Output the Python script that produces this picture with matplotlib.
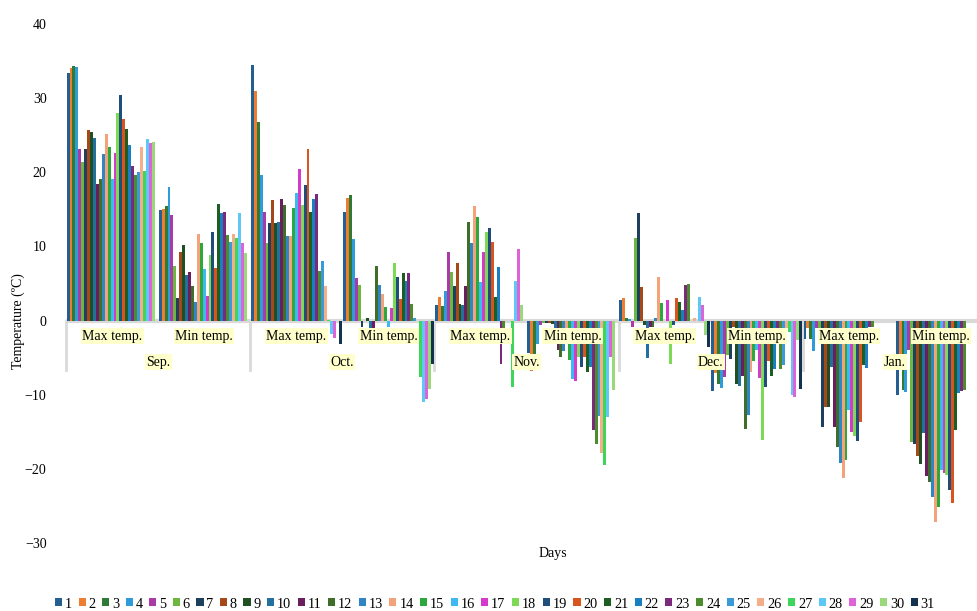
import numpy as np
import matplotlib.pyplot as plt

plt.rcParams['font.family'] = ['Liberation Serif', 'DejaVu Serif']

months = ['Sep.', 'Oct.', 'Nov.', 'Dec.', 'Jan.']
kinds = ['Max temp.', 'Min temp.']
days = [str(d) for d in range(1, 32)]
nan = np.nan

# daily temperatures (degC), day 1..31 for each month/type
sep_max = [33.4, 34.1, 34.4, 34.2, 23.1, 21.4, 23.2, 25.7, 25.4, 24.6, 18.4, 19.1, 22.5, 25.1, 23.4,
           19.1, 22.6, 28.0, 30.4, 27.2, 25.9, 23.7, 20.9, 19.7, 20.0, 23.4, 20.2, 24.5, 24.0, 24.1, nan]
sep_min = [14.9, 15.1, 15.4, 18.0, 14.2, 7.4, 3.1, 9.3, 10.2, 6.1, 6.5, 4.6, 2.5, 11.7, 10.5,
           6.9, 3.3, 8.9, 12.0, 7.1, 15.7, 14.5, 14.6, 11.5, 10.6, 11.7, 11.2, 14.5, 10.4, 9.1, nan]
oct_max = [34.5, 30.9, 26.8, 19.6, 14.6, 10.5, 13.2, 16.3, 13.2, 13.3, 16.4, 15.6, 11.4, 11.4, 15.2,
           17.2, 20.4, 15.6, 18.3, 23.1, 14.7, 16.4, 17.1, 6.7, 8.0, 4.6, 0.1, -1.8, -2.3, 0.0, -3.2]
oct_min = [14.6, 16.5, 16.9, 11.0, 5.8, 4.8, -0.8, 0.0, 0.3, -1.0, -1.0, 7.4, 4.8, 3.6, 1.8,
           -0.8, 1.7, 7.7, 5.9, 2.9, 6.4, 5.4, 6.4, 2.3, 0.3, 0.0, -7.6, -11.0, -10.6, -9.2, -5.8]
nov_max = [2.1, 3.2, 1.9, 4.0, 9.3, 6.5, 4.6, 7.8, 2.3, 2.1, 4.7, 13.3, 10.4, 15.4, 14.0,
           5.2, 9.3, 12.0, 12.5, 10.6, 3.2, 7.2, -5.9, -1.1, 0.0, 0.0, -8.9, 5.4, 9.7, 2.1, nan]
nov_min = [-4.4, -6.8, -5.7, -3.2, -0.6, -0.3, -0.3, -0.3, -0.5, -2.9, -4.0, -4.9, -4.1, -2.8, -5.3,
           -7.9, -8.1, -4.9, -6.3, -4.9, -7.0, -6.2, -14.8, -16.6, -12.9, -17.8, -19.5, -13.0, -4.9, -9.4, nan]
dec_max = [2.8, 3.0, 0.4, 0.2, -0.9, 11.1, 14.5, 4.5, -0.6, -5.0, -0.8, -0.9, 0.3, 5.9, 2.4,
           0.0, 2.8, -5.9, -0.6, 3.0, 2.5, 1.4, 4.8, 5.0, 0.0, 0.4, 0.0, 3.2, 2.1, -1.9, -3.5]
dec_min = [-9.5, -7.1, -8.5, -9.1, -7.6, -4.7, -5.2, -0.8, -8.5, -8.8, -7.5, -14.6, -12.8, -7.0, -5.5,
           -4.0, -7.8, -16.1, -9.0, -5.5, -7.5, -6.5, -3.0, -6.5, -6.0, -1.0, -1.5, -10.1, -10.3, -2.6, -9.2]
jan_max = [-2.5, -1.0, -2.5, -4.1, -1.0, -1.0, -14.3, -11.7, -11.6, -6.3, -14.3, -17.1, -19.2, -21.2, -18.8,
           -12.0, -15.0, -15.6, -16.3, -13.7, -6.0, -6.4, -0.8, -0.8, 0, 0, 0, 0, 0, 0, 0]
jan_min = [-10.0, -6.7, -9.3, -9.6, -4.0, -16.4, -16.6, -18.2, -19.3, -15.2, -20.9, -21.8, -23.8, -27.2, -25.1,
           -20.2, -20.6, -20.8, -22.8, -24.6, -14.8, -9.8, -9.5, -9.3, 0, 0, 0, 0, 0, 0, 0]

groups = [sep_max, sep_min, oct_max, oct_min, nov_max, nov_min, dec_max, dec_min, jan_max, jan_min]

colors = ['#255E91', '#ED7D31', '#2F7A35', '#2E9BDA', '#A93AA8', '#6CB740', '#1F3F5F', '#A5481A',
          '#1F4F22', '#23709E', '#6A1E5E', '#3F6E2A', '#2F86C4', '#F4A27A', '#2EA83C', '#3DB8F0',
          '#D43BCC', '#7ED957', '#1E4E79', '#D9541E', '#1D5E22', '#1A7FC1', '#7B2A7B', '#4C8C2E',
          '#3A9AD9', '#F5AE8A', '#3ED65A', '#5BC8F5', '#E062D8', '#9AD97A', '#13324F']

fig = plt.figure(figsize=(9.77, 6.11), dpi=100)
ax = fig.add_axes([66 / 977, 1 - 543 / 611, 911 / 977, 519 / 611])

n = len(days)
w = 2.93 / 92.1
gx = np.arange(len(groups))
for j in range(n):
    vals = [g[j] for g in groups]
    ax.bar(gx + (j - (n - 1) / 2) * w, vals, width=w, color=colors[j],
           label=days[j], zorder=3, linewidth=0)

ax.set_xlim(-0.5, 9.39)
ax.set_ylim(-30, 40)
ax.axhline(0, color='#D9D9D9', lw=3, zorder=2)
for b in [-0.5, 1.5, 3.5, 5.5, 7.5]:
    ax.plot([b, b], [0, -6.7], color='#D9D9D9', lw=2, zorder=1, clip_on=False)

box = dict(facecolor='#FFFFCC', edgecolor='none', pad=1)
for i in range(len(groups)):
    ax.text(i, -2.1, kinds[i % 2], ha='center', va='center', fontsize=10, bbox=box, zorder=5)
for m, name in enumerate(months):
    ax.text(2 * m + 0.5, -5.6, name, ha='center', va='center', fontsize=10, bbox=box, zorder=5)

ax.set_xticks([])
ax.set_yticks(range(-30, 41, 10))
ax.tick_params(axis='y', length=0, labelsize=10, pad=14)
for s in ax.spines.values():
    s.set_visible(False)

fig.text(18 / 977, 1 - 321 / 611, 'Temperature (ºC)', rotation=90, ha='center', va='center', fontsize=10)
fig.text(553 / 977, 1 - 553 / 611, 'Days', ha='center', va='center', fontsize=10)

fig.legend(loc='center', bbox_to_anchor=(495 / 977, 1 - 604 / 611), ncol=31, frameon=False,
           fontsize=10.3, handlelength=0.5, handleheight=0.5, handletextpad=0.2,
           columnspacing=0.45, borderpad=0)

fig.savefig('out.png', dpi=100)
